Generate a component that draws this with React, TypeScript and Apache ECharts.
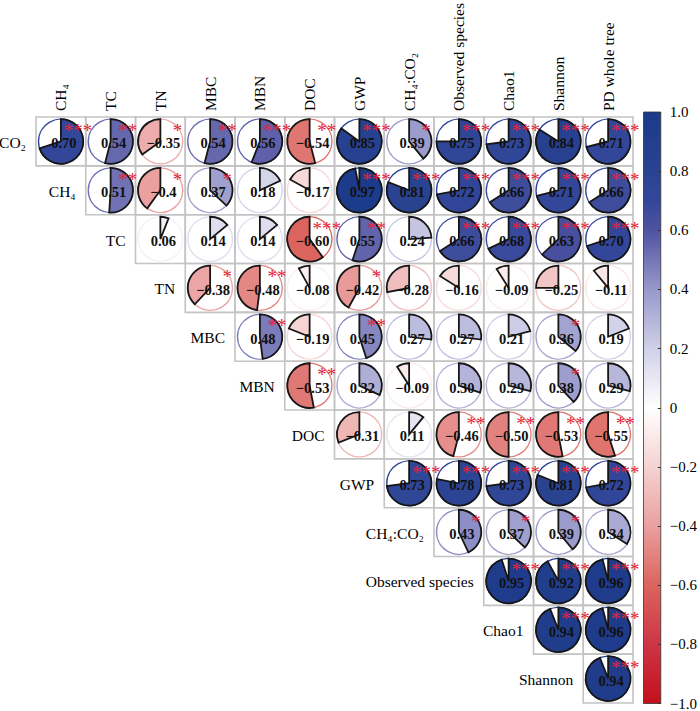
import React, { useEffect, useRef } from 'react';
import * as echarts from 'echarts';

const colLabels = ['CH₄', 'TC', 'TN', 'MBC', 'MBN', 'DOC', 'GWP', 'CH₄:CO₂', 'Observed species', 'Chao1', 'Shannon', 'PD whole tree'];
const rowLabels = ['CO₂', 'CH₄', 'TC', 'TN', 'MBC', 'MBN', 'DOC', 'GWP', 'CH₄:CO₂', 'Observed species', 'Chao1', 'Shannon'];

// Each row starts on the diagonal (row i begins in column i)
const rCO2 = ['0.70', '0.54', '-0.35', '0.54', '0.56', '-0.54', '0.85', '0.39', '0.75', '0.73', '0.84', '0.71'];
const sCO2 = ['***', '**', '*', '**', '***', '**', '***', '*', '***', '***', '***', '***'];
const rCH4 = ['0.51', '-0.4', '0.37', '0.18', '-0.17', '0.97', '0.81', '0.72', '0.66', '0.71', '0.66'];
const sCH4 = ['**', '*', '*', '', '', '***', '***', '***', '***', '***', '***'];
const rTC = ['0.06', '0.14', '0.14', '-0.60', '0.55', '0.24', '0.66', '0.68', '0.63', '0.70'];
const sTC = ['', '', '', '***', '**', '', '***', '***', '***', '***'];
const rTN = ['-0.38', '-0.48', '-0.08', '-0.42', '-0.28', '-0.16', '-0.09', '-0.25', '-0.11'];
const sTN = ['*', '**', '', '*', '', '', '', '', ''];
const rMBC = ['0.48', '-0.19', '0.45', '0.27', '0.27', '0.21', '0.36', '0.19'];
const sMBC = ['**', '', '**', '', '', '', '*', ''];
const rMBN = ['-0.53', '0.32', '-0.09', '0.30', '0.29', '0.38', '0.29'];
const sMBN = ['**', '', '', '', '', '*', ''];
const rDOC = ['-0.31', '0.11', '-0.46', '-0.50', '-0.53', '-0.55'];
const sDOC = ['', '', '**', '**', '**', '**'];
const rGWP = ['0.73', '0.78', '0.73', '0.81', '0.72'];
const sGWP = ['***', '***', '***', '***', '***'];
const rRatio = ['0.43', '0.37', '0.39', '0.34'];
const sRatio = ['*', '*', '*', ''];
const rObs = ['0.95', '0.92', '0.96'];
const sObs = ['***', '***', '***'];
const rChao = ['0.94', '0.96'];
const sChao = ['***', '***'];
const rShannon = ['0.94'];
const sShannon = ['***'];

const corrRows = [rCO2, rCH4, rTC, rTN, rMBC, rMBN, rDOC, rGWP, rRatio, rObs, rChao, rShannon];
const sigRows = [sCO2, sCH4, sTC, sTN, sMBC, sMBN, sDOC, sGWP, sRatio, sObs, sChao, sShannon];

const paletteStops = [-1, -0.8, -0.6, -0.4, -0.2, 0, 0.2, 0.4, 0.6, 0.7, 0.8, 1];
const paletteColors = ['#c40f1c', '#cd3545', '#db645e', '#e9a09f', '#f5d2d2', '#ffffff', '#d0d0e8', '#9898cb', '#4f53a0', '#33479a', '#2a4391', '#1b3a8a'];

const cbTickValues = [-1, -0.8, -0.6, -0.4, -0.2, 0, 0.2, 0.4, 0.6, 0.8, 1];
const cbTickLabels = ['−1.0', '−0.8', '−0.6', '−0.4', '−0.2', '0', '0.2', '0.4', '0.6', '0.8', '1.0'];

const SERIF = '"Times New Roman", "Liberation Serif", serif';

function hexToRgb(h: string) {
  const n = parseInt(h.slice(1), 16);
  return [(n >> 16) & 255, (n >> 8) & 255, n & 255];
}
function colorFor(v: number) {
  let i = 0;
  while (i < paletteStops.length - 2 && v > paletteStops[i + 1]) i++;
  const t = (v - paletteStops[i]) / (paletteStops[i + 1] - paletteStops[i]);
  const a = hexToRgb(paletteColors[i]);
  const b = hexToRgb(paletteColors[i + 1]);
  const c = a.map((x, k) => Math.round(x + (b[k] - x) * Math.max(0, Math.min(1, t))));
  return `rgb(${c[0]},${c[1]},${c[2]})`;
}

type Cell = { c: number; r: number; v: number; label: string; sig: string };
const cells: Cell[] = [];
corrRows.forEach((row, r) => {
  row.forEach((s, k) => {
    cells.push({ c: r + k, r, v: parseFloat(s), label: s.replace('-', '−'), sig: sigRows[r][k] });
  });
});

export default function App() {
  const ref = useRef<HTMLDivElement>(null);
  useEffect(() => {
    document.body.style.margin = '0';
    const chart = echarts.init(ref.current!, null, { renderer: 'svg' });
    const gradStops = paletteStops
      .map((s, i) => ({ offset: (1 - s) / 2, color: paletteColors[i] }))
      .sort((a, b) => a.offset - b.offset);
    chart.setOption({
      animation: false,
      backgroundColor: '#fff',
      grid: [
        { left: 36, top: 111, width: 597, height: 592 },
        { left: 643.5, top: 112, width: 21, height: 592 },
      ],
      xAxis: [
        {
          type: 'category', gridIndex: 0, position: 'top', data: colLabels,
          axisLine: { show: false }, axisTick: { show: false }, splitLine: { show: false },
          axisLabel: { rotate: -90, interval: 0, margin: 6, fontSize: 15.5, fontFamily: SERIF, color: '#000' },
        },
        { type: 'category', gridIndex: 1, data: ['cb'], show: false },
      ],
      yAxis: [
        {
          type: 'category', gridIndex: 0, inverse: true, data: rowLabels,
          axisLine: { show: false }, axisTick: { show: false }, axisLabel: { show: false }, splitLine: { show: false },
        },
        {
          type: 'value', gridIndex: 1, min: -1, max: 1, interval: 0.2, position: 'right', z: 10,
          splitLine: { show: false },
          axisLine: { show: false },
          axisTick: { show: true, inside: true, length: 3, lineStyle: { color: '#333', width: 1 } },
          axisLabel: {
            margin: 9, fontSize: 15, fontFamily: SERIF, color: '#000',
            formatter: (v: number) => {
              const idx = cbTickValues.findIndex((t) => Math.abs(t - v) < 1e-6);
              return idx >= 0 ? cbTickLabels[idx] : '';
            },
          },
        },
      ],
      series: [
        {
          type: 'custom', xAxisIndex: 0, yAxisIndex: 0, clip: false, z: 2,
          data: cells.map((d) => [d.c, d.r, d.v]),
          renderItem: (params: any, api: any) => {
            const d = cells[params.dataIndex];
            const [cx, cy] = api.coord([api.value(0), api.value(1)]);
            const [w, h] = api.size([1, 1]);
            const rad = Math.min(w, h) * 0.458;
            const col = colorFor(d.v);
            const start = -Math.PI / 2;
            const end = start + (d.v >= 0 ? 1 : -1) * 2 * Math.PI * Math.abs(d.v);
            const children: any[] = [
              { type: 'rect', shape: { x: cx - w / 2, y: cy - h / 2, width: w, height: h }, style: { fill: 'none', stroke: '#c3c3c3', lineWidth: 1.6 }, z2: 0 },
              { type: 'circle', shape: { cx, cy, r: rad }, style: { fill: '#fff', stroke: col, lineWidth: 1.4 }, z2: 1 },
              { type: 'sector', shape: { cx, cy, r0: 0, r: rad, startAngle: start, endAngle: end, clockwise: d.v >= 0 }, style: { fill: col, stroke: '#161616', lineWidth: 1.8 }, z2: 2 },
              { type: 'text', x: cx + 3, y: cy + 2, style: { text: d.label, fill: '#111', fontSize: 14.5, fontWeight: 'bold', fontFamily: SERIF, align: 'center', verticalAlign: 'middle' }, z2: 3 },
            ];
            if (d.sig) {
              children.push({ type: 'text', x: cx + 17, y: cy - 11, style: { text: d.sig, fill: '#e3243b', fontSize: 19, fontFamily: SERIF, align: 'center', verticalAlign: 'middle' }, z2: 10 });
            }
            return { type: 'group', children };
          },
        },
        {
          type: 'custom', xAxisIndex: 0, yAxisIndex: 0, clip: false, z: 3,
          data: rowLabels.map((_, i) => [i, i]),
          renderItem: (params: any, api: any) => {
            const [cx, cy] = api.coord([api.value(0), api.value(1)]);
            const [w] = api.size([1, 1]);
            return {
              type: 'text', x: cx - w / 2 - 10, y: cy + 1,
              style: { text: rowLabels[params.dataIndex], fill: '#000', fontSize: 15.5, fontFamily: SERIF, align: 'right', verticalAlign: 'middle' },
            };
          },
        },
        {
          type: 'custom', xAxisIndex: 1, yAxisIndex: 1, clip: false, z: 1,
          data: [[0, 0]],
          renderItem: (params: any, api: any) => {
            const top = api.coord([0, 1]);
            const bot = api.coord([0, -1]);
            const w = api.size([1, 0])[0];
            return {
              type: 'rect',
              shape: { x: top[0] - w / 2, y: top[1], width: w, height: bot[1] - top[1] },
              style: { fill: new echarts.graphic.LinearGradient(0, 0, 0, 1, gradStops), stroke: '#333', lineWidth: 0.8 },
            };
          },
        },
      ],
    });
    return () => chart.dispose();
  }, []);
  return <div ref={ref} style={{ position: 'absolute', left: 0, top: 0, width: 700, height: 711 }} />;
}
